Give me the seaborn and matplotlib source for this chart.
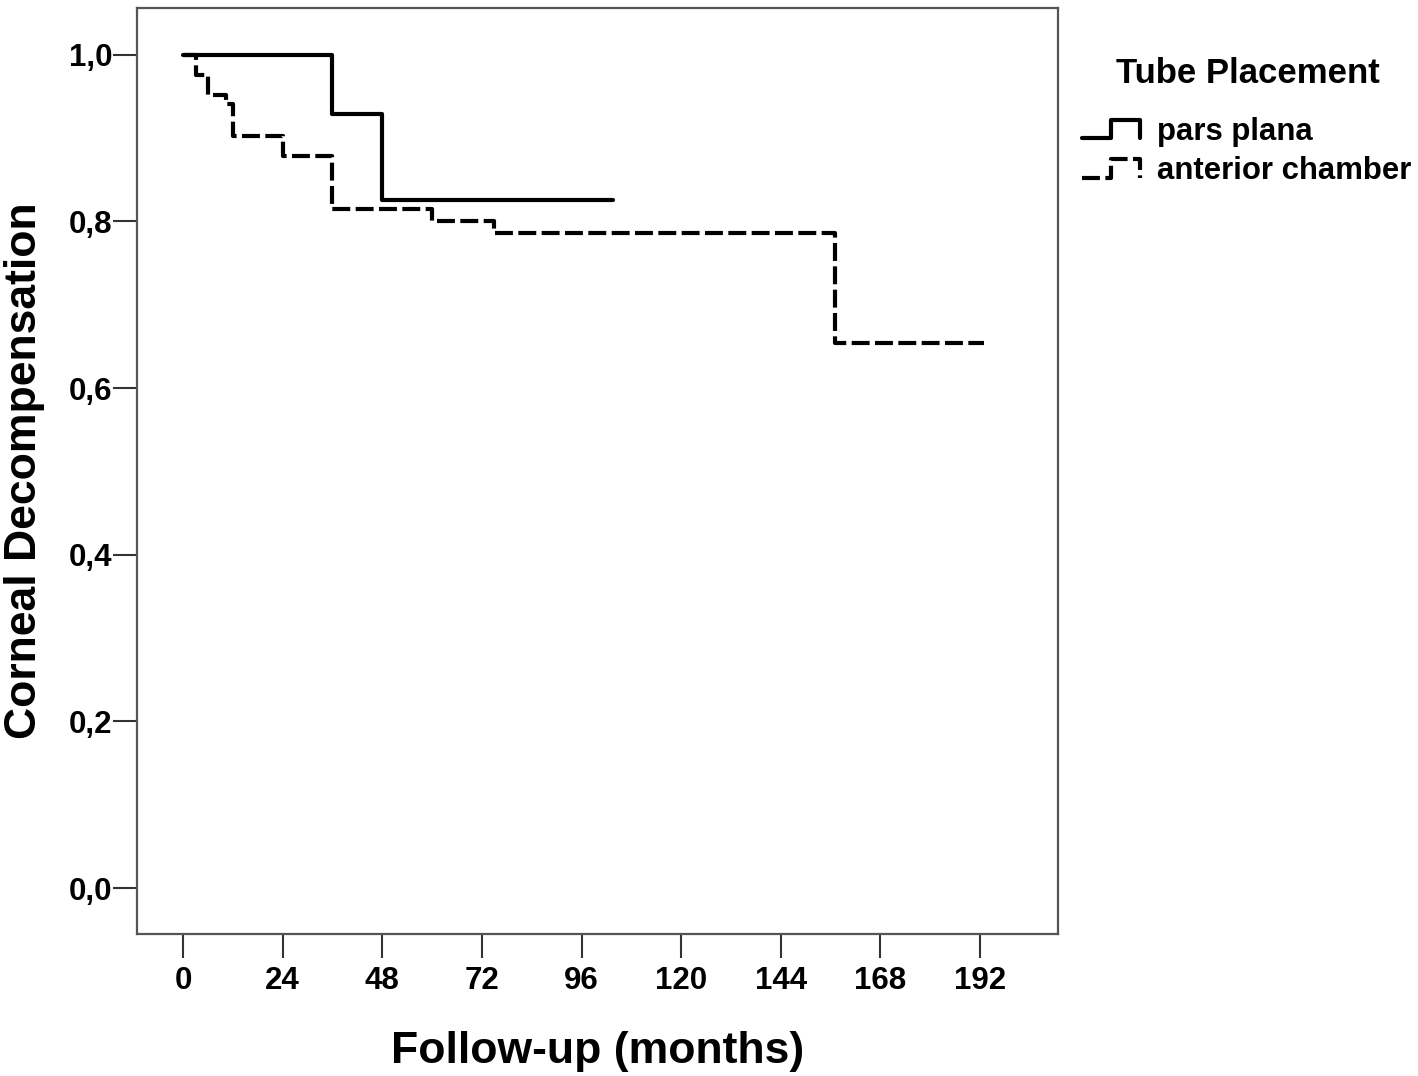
import matplotlib
matplotlib.use("Agg")
import matplotlib.pyplot as plt
import seaborn as sns
import pandas as pd
from matplotlib.lines import Line2D
from matplotlib.legend_handler import HandlerLine2D

# ---- data ----
pp_time = [0, 36, 48, 103.5]
pp_surv = [1.0, 0.929, 0.826, 0.826]
ac_time = [0, 3, 6, 10.3, 12, 24, 36, 60, 75, 157, 193]
ac_surv = [1.0, 0.976, 0.952, 0.941, 0.902, 0.878, 0.815, 0.801, 0.786, 0.654, 0.654]
groups = ["pars plana", "anterior chamber"]
x_ticks = [0, 24, 48, 72, 96, 120, 144, 168, 192]
y_ticks = [0.0, 0.2, 0.4, 0.6, 0.8, 1.0]
y_tick_labels = ["0,0", "0,2", "0,4", "0,6", "0,8", "1,0"]

df = pd.concat([
    pd.DataFrame({"time": pp_time, "surv": pp_surv, "group": groups[0]}),
    pd.DataFrame({"time": ac_time, "surv": ac_surv, "group": groups[1]}),
], ignore_index=True)

sns.set_style("white")
plt.rcParams["font.family"] = ["Liberation Sans", "DejaVu Sans"]
plt.rcParams["font.weight"] = "bold"
plt.rcParams["text.color"] = "black"
plt.rcParams["axes.labelcolor"] = "black"
plt.rcParams["xtick.color"] = "black"
plt.rcParams["ytick.color"] = "black"

fig = plt.figure(figsize=(14.18, 10.76), dpi=100)
ax = fig.add_axes([137 / 1418, 1 - 934 / 1076, (1058 - 137) / 1418, (934 - 8) / 1076])

DASH = (4.3, 1.3)
sns.lineplot(data=df, x="time", y="surv", style="group", style_order=groups,
             dashes={groups[0]: "", groups[1]: DASH}, color="black",
             drawstyle="steps-post", estimator=None, sort=False,
             linewidth=3, legend=False, ax=ax)

ax.set_xlim(-11.1, 210.8)
ax.set_ylim(-0.055, 1.056)
ax.set_xticks(x_ticks)
ax.set_xticklabels([str(v) for v in x_ticks])
ax.set_yticks(y_ticks)
ax.set_yticklabels(y_tick_labels)
ax.tick_params(axis="both", direction="out", length=17, width=1.5, color="#333333",
               labelsize=22.5, labelcolor="black", bottom=True, left=True)
ax.tick_params(axis="x", pad=6)
ax.tick_params(axis="y", pad=0.5)
for lab in ax.get_xticklabels() + ax.get_yticklabels():
    lab.set_fontweight("bold")
for sp in ax.spines.values():
    sp.set_visible(True)
    sp.set_color("#555555")
    sp.set_linewidth(1.6)

ax.set_xlabel("Follow-up (months)", fontsize=32, fontweight="bold", labelpad=25,
              color="black")
ax.set_ylabel("Corneal Decompensation", fontsize=32, fontweight="bold", labelpad=17,
              color="black")


class StepHandler(HandlerLine2D):
    def create_artists(self, legend, orig_handle, xdescent, ydescent,
                       width, height, fontsize, trans):
        lo = -ydescent + height * 0.0
        hi = -ydescent + height * 1.0
        xs = [-xdescent, -xdescent + width * 0.5, -xdescent + width * 0.5,
              -xdescent + width, -xdescent + width]
        ys = [lo, lo, hi, hi, lo]
        ln = Line2D(xs, ys, color="black", linewidth=3,
                    linestyle=orig_handle.get_linestyle())
        if orig_handle.get_linestyle() != "-":
            ln.set_dashes(DASH)
        ln.set_transform(trans)
        return [ln]


fig.text(1248 / 1418, 1 - 74 / 1076, "Tube Placement", fontsize=25,
         fontweight="bold", ha="center", va="center", color="black")

handles = [Line2D([], [], color="black", linestyle="-"),
           Line2D([], [], color="black", linestyle="--")]
leg = fig.legend(handles, groups, loc="upper left",
                 bbox_to_anchor=(1082 / 1418, 1 - 117 / 1076),
                 frameon=False, fontsize=22.4,
                 handlelength=1.85, handleheight=0.55, handletextpad=0.55,
                 labelspacing=0.3, borderaxespad=0, borderpad=0,
                 handler_map={Line2D: StepHandler()})
for t in leg.get_texts():
    t.set_fontweight("bold")
    t.set_color("black")

fig.savefig("out.png", dpi=100, facecolor="white")
